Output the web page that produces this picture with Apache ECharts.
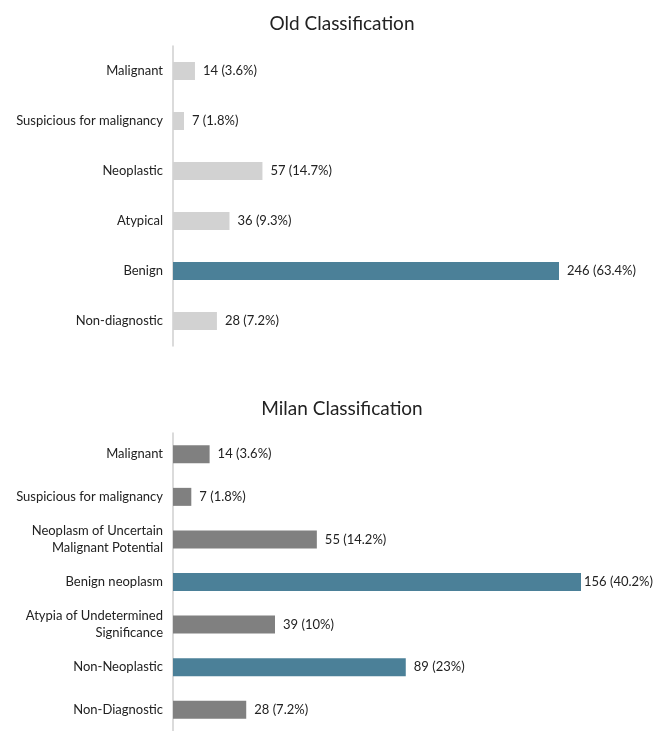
<!DOCTYPE html>
<html><head><meta charset="utf-8">
<script src="https://cdn.jsdelivr.net/npm/echarts@6/dist/echarts.min.js"></script>
<style>html,body{margin:0;padding:0;background:#fff}#c{width:656px;height:731px}</style>
</head><body><div id="c"></div>
<script>
const oldTitle = 'Old Classification';
const oldCategories = ['Malignant','Suspicious for malignancy','Neoplastic','Atypical','Benign','Non-diagnostic'];
const oldValues = [14, 7, 57, 36, 246, 28];
const oldPercents = ['3.6%','1.8%','14.7%','9.3%','63.4%','7.2%'];
const oldHighlight = [false,false,false,false,true,false];

const milanTitle = 'Milan Classification';
const milanCategories = ['Malignant','Suspicious for malignancy','Neoplasm of Uncertain\nMalignant Potential','Benign neoplasm','Atypia of Undetermined\nSignificance','Non-Neoplastic','Non-Diagnostic'];
const milanValues = [14, 7, 55, 156, 39, 89, 28];
const milanPercents = ['3.6%','1.8%','14.2%','40.2%','10%','23%','7.2%'];
const milanHighlight = [false,false,false,true,false,true,false];

const TEAL = '#4b8098', LIGHT = '#d2d2d2', DARK = '#808080';
const FONT = 'Lato';
const chart = echarts.init(document.getElementById('c'), null, {renderer:'canvas'});

function yAxis(idx, cats){
  return {type:'category', gridIndex:idx, data:cats, inverse:true,
    axisLine:{show:true, lineStyle:{color:'#cfcfcf', width:1.5}},
    axisTick:{show:false},
    axisLabel:{color:'#222', fontFamily:FONT, fontSize:13, margin:10, lineHeight:17, align:'right'},
    splitLine:{show:false}};
}
function xAxis(idx, max){
  return {type:'value', gridIndex:idx, min:0, max:max, show:false, splitLine:{show:false}};
}
function series(idx, vals, pcts, hl, base){
  const mx = Math.max(...vals);
  return {type:'bar', xAxisIndex:idx, yAxisIndex:idx, barWidth:18,
    data: vals.map((v,i)=>({value:v, itemStyle:{color: hl[i]?TEAL:base},
      label: (idx===1 && v===mx) ? {distance:3} : undefined})),
    label:{show:true, position:'right', distance:8, color:'#222', fontFamily:FONT, fontSize:13,
      formatter: p => p.value + ' (' + pcts[p.dataIndex] + ')'},
    silent:true, animation:false};
}

chart.setOption({
  animation:false,
  title:[
    {text:oldTitle, left:337, top:9, textAlign:'center', textStyle:{fontFamily:FONT, fontWeight:'normal', fontSize:19, color:'#222'}},
    {text:milanTitle, left:337, top:394, textAlign:'center', textStyle:{fontFamily:FONT, fontWeight:'normal', fontSize:19, color:'#222'}}
  ],
  grid:[
    {left:173, top:46, width:386, height:300},
    {left:173, top:433, width:408, height:301}
  ],
  xAxis:[xAxis(0, Math.max(...oldValues)), xAxis(1, Math.max(...milanValues))],
  yAxis:[yAxis(0, oldCategories), yAxis(1, milanCategories)],
  series:[series(0, oldValues, oldPercents, oldHighlight, LIGHT), series(1, milanValues, milanPercents, milanHighlight, DARK)]
});
</script></body></html>
